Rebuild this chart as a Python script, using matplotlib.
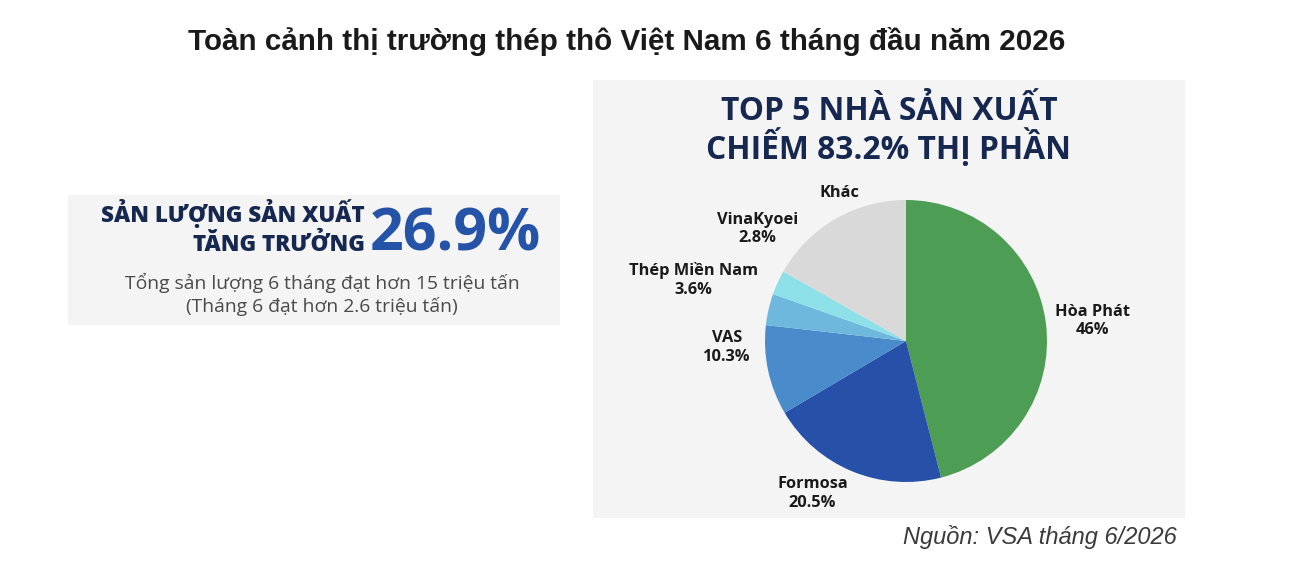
import numpy as np
import matplotlib
matplotlib.use("Agg")
import matplotlib.pyplot as plt
from matplotlib.patches import Rectangle

# ---- data ----
companies = ["Hòa Phát", "Formosa", "VAS", "Thép Miền Nam", "VinaKyoei", "Khác"]
shares = [46.0, 20.5, 10.3, 3.6, 2.8, 16.8]
share_labels = ["46%", "20.5%", "10.3%", "3.6%", "2.8%", ""]
growth_pct = "26.9%"
top5_share = "83.2%"

# ---- style ----
colors = ["#4E9D55", "#2750A8", "#4A8BCB", "#6DB8DC", "#8EE0E8", "#D9D9D9"]
label_dist = [1.33, 1.27, 1.27, 1.57, 1.32, 1.15]
label_angle_off = [-1, -9, -10, -3, -12.6, -6]
navy = "#16284F"
hfont = "Open Sans"

W, H = 1294, 572
fig = plt.figure(figsize=(W / 100, H / 100), dpi=100)
fig.patch.set_facecolor("white")

def fx(x): return x / W
def fy(y): return 1 - y / H

# panels
fig.patches.append(Rectangle((fx(68), fy(325)), (560 - 68) / W, (325 - 195) / H,
                             transform=fig.transFigure, facecolor="#F4F4F4", edgecolor="none", zorder=-5))
fig.patches.append(Rectangle((fx(593), fy(518)), (1185 - 593) / W, (518 - 80) / H,
                             transform=fig.transFigure, facecolor="#F4F4F4", edgecolor="none", zorder=-5))

# main title
fig.text(fx(627), fy(42), "Toàn cảnh thị trường thép thô Việt Nam 6 tháng đầu năm 2026",
         ha="center", va="center", fontsize=21.3, fontweight="bold", color="#1A1A1A",
         family="Liberation Sans")

# left panel
fig.text(fx(365), fy(222), "SẢN LƯỢNG SẢN XUẤT", ha="right", va="baseline",
         fontsize=16.2, fontweight=800, color=navy, family=hfont)
fig.text(fx(365), fy(251), "TĂNG TRƯỞNG", ha="right", va="baseline",
         fontsize=16.2, fontweight=800, color=navy, family=hfont)
fig.text(fx(370), fy(251), growth_pct, ha="left", va="baseline",
         fontsize=42.5, fontweight="bold", color="#2553A8", family=hfont)
fig.text(fx(322), fy(283), "Tổng sản lượng 6 tháng đạt hơn 15 triệu tấn", ha="center", va="center",
         fontsize=13.9, color="#4A4A4A", family=hfont)
fig.text(fx(322), fy(307), "(Tháng 6 đạt hơn 2.6 triệu tấn)", ha="center", va="center",
         fontsize=13.9, color="#4A4A4A", family=hfont)

# right panel title
fig.text(fx(889), fy(111), "TOP 5 NHÀ SẢN XUẤT", ha="center", va="center",
         fontsize=22.9, fontweight="bold", color=navy, family=hfont)
fig.text(fx(889), fy(148), f"CHIẾM {top5_share} THỊ PHẦN", ha="center", va="center",
         fontsize=22.9, fontweight="bold", color=navy, family=hfont)

# pie
cx, cy, r = 906, 341, 141
ax = fig.add_axes([fx(cx - r), fy(cy + r), 2 * r / W, 2 * r / H], zorder=2)
wedges, _ = ax.pie(shares, colors=colors, startangle=90, counterclock=False,
                   wedgeprops=dict(linewidth=0), radius=1.0)
ax.set_xlim(-1, 1)
ax.set_ylim(-1, 1)
ax.set_aspect("equal")
ax.axis("off")

for w, name, lab, d, off in zip(wedges, companies, share_labels, label_dist, label_angle_off):
    ang = np.deg2rad((w.theta1 + w.theta2) / 2 + off)
    txt = name if not lab else f"{name}\n{lab}"
    ax.text(d * np.cos(ang), d * np.sin(ang), txt, ha="center", va="center",
            fontsize=11.8, fontweight="bold", color="#1A1A1A", family=hfont,
            linespacing=1.2, clip_on=False)

# source
fig.text(fx(1177), fy(537), "Nguồn: VSA tháng 6/2026", ha="right", va="center",
         fontsize=17, fontstyle="italic", color="#3A3A3A", family="Liberation Sans")

fig.savefig("out.png", dpi=100, facecolor="white")
